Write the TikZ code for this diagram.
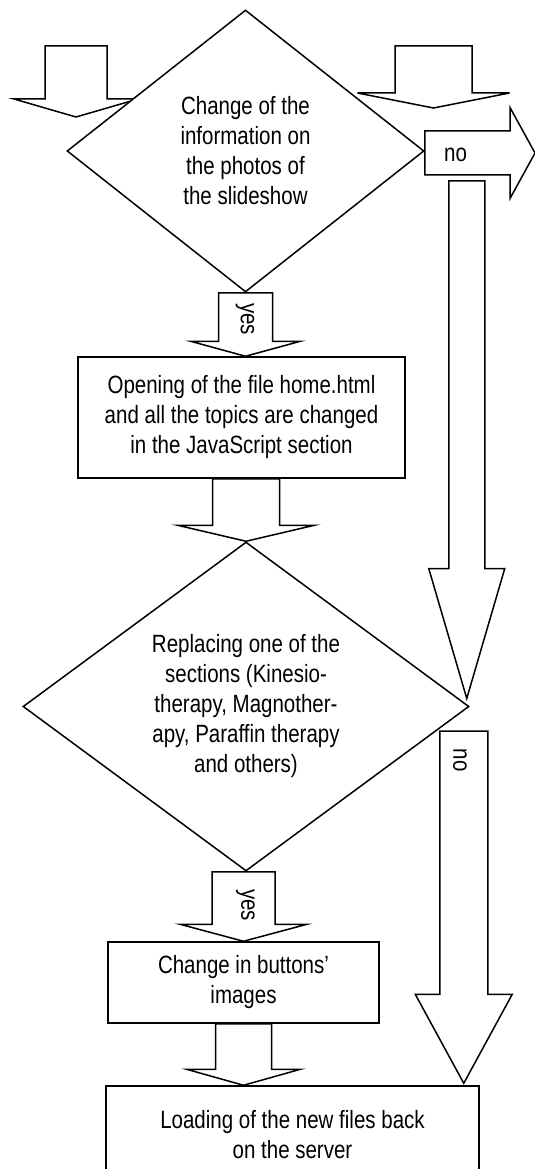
\documentclass[tikz,border=0pt]{standalone}
\usepackage{fontspec}
\setmainfont{Liberation Sans}[FakeStretch=0.82]
\usetikzlibrary{calc}
\usetikzlibrary{shapes.geometric}

\tikzset{
  blk/.style={draw, line width=1.5pt, fill=white, line join=miter},
  decision/.style={diamond, draw, line width=1.5pt, fill=white, inner sep=0pt, align=center},
  process/.style={rectangle, draw, line width=1.5pt, fill=white, inner sep=0pt, align=center},
  lbl/.style={inner sep=0pt}
}

% block arrow pointing down: from, to, shaft half width, head half width, head length
\newcommand{\blkdown}[5]{%
  \draw[blk] let \p1=(#1), \p2=(#2) in
    (\x2-#3,\y1) -- (\x2+#3,\y1) -- (\x2+#3,\y2+#5) -- (\x2+#4,\y2+#5) -- (\p2)
    -- (\x2-#4,\y2+#5) -- (\x2-#3,\y2+#5) -- cycle;}
% block arrow pointing right
\newcommand{\blkright}[5]{%
  \draw[blk] let \p1=(#1), \p2=(#2) in
    (\x1,\y2+#3) -- (\x2-#5,\y2+#3) -- (\x2-#5,\y2+#4) -- (\p2)
    -- (\x2-#5,\y2-#4) -- (\x2-#5,\y2-#3) -- (\x1,\y2-#3) -- cycle;}

\begin{document}
\begin{tikzpicture}[x=1pt, y=-1pt, font=\fontsize{25}{30}\selectfont]
\useasboundingbox (0,0) rectangle (535,1169);

\coordinate (inL) at (76,46);
\coordinate (inLtip) at (76,117);
\coordinate (inR) at (433.5,46);
\coordinate (inRtip) at (433.5,108);
\blkdown{inL}{inLtip}{31pt}{62pt}{18pt}
\blkdown{inR}{inRtip}{38.5pt}{76pt}{15pt}

\node[decision, aspect=1.266, minimum width=357, minimum height=282] (d1) at (245.5,151)
  {Change of the\\information on\\the photos of\\the slideshow};
\node[process, minimum width=327, minimum height=121] (b1) at (241.5,417.5)
  {Opening of the file home.html\\and all the topics are changed\\in the JavaScript section};
\node[decision, aspect=1.356, minimum width=446, minimum height=329] (d2) at (246,706.5)
  {Replacing one of the\\sections (Kinesio-\\therapy, Magnother-\\apy, Paraffin therapy\\and others)};
\node[process, minimum width=271, minimum height=81] (b2) at (243.5,982.5)
  {Change in buttons'\\images};
\node[process, minimum width=373, minimum height=98] (b3) at (292.5,1135)
  {Loading of the new files back\\on the server};

\coordinate (noRtip) at (535,153);
\coordinate (noA) at (466,181);
\coordinate (noAtip) at ([xshift=-3pt,yshift=8pt]d2.east);
\coordinate (noB) at (463,731);
\coordinate (noBtip) at ([xshift=-16pt,yshift=2pt]b3.north east);

\blkright{d1.east}{noRtip}{22pt}{45.5pt}{25pt}
\blkdown{d1.south}{d1.south |- b1.north}{27pt}{55pt}{15pt}
\blkdown{noA}{noAtip}{18pt}{38pt}{130pt}
\blkdown{b1.south}{d2.north}{33.5pt}{68.5pt}{16pt}
\blkdown{d2.south}{b2.north}{31.5pt}{63.5pt}{17pt}
\blkdown{b2.south}{b2.south |- b3.north}{28pt}{57pt}{16pt}
\blkdown{noB}{noBtip}{24pt}{48.5pt}{89pt}

\node[lbl, anchor=west] (noa) at (444,155) {no};
\node[lbl, rotate=-90] (yesa) at (245,319) {yes};
\node[lbl, rotate=-90] (yesb) at (245.5,905) {yes};
\node[lbl, rotate=-90] (nob) at (460,760) {no};
\end{tikzpicture}
\end{document}
